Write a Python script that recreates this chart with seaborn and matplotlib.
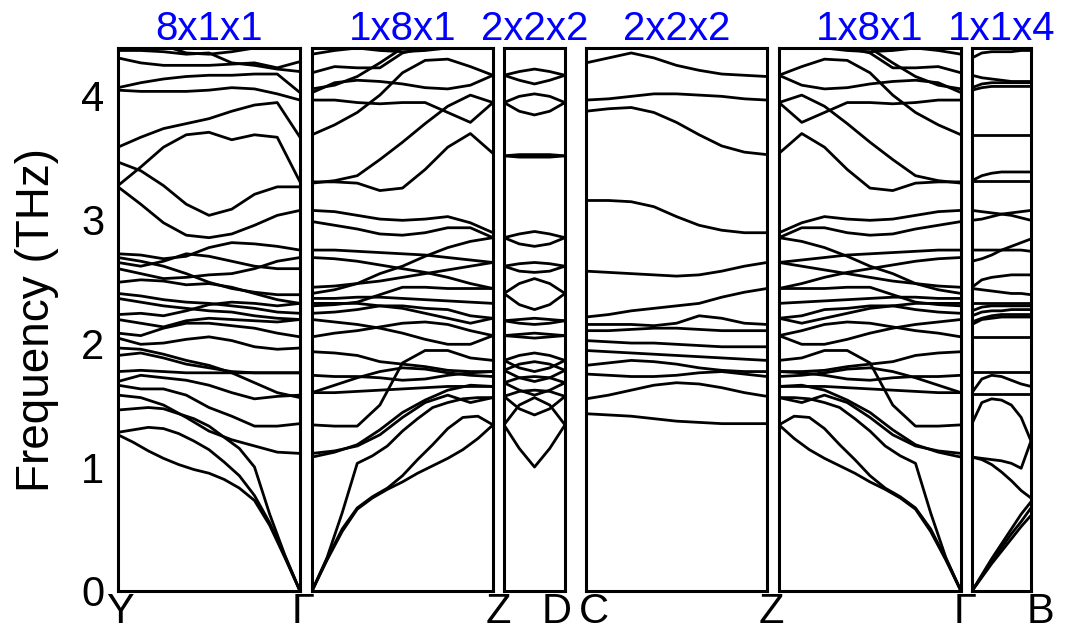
import numpy as np
import pandas as pd
import matplotlib
matplotlib.use("Agg")
import matplotlib.pyplot as plt
import seaborn as sns

sns.set_theme(style="white")
plt.rcParams['font.family'] = ['Liberation Sans', 'DejaVu Sans']
plt.rcParams['text.color'] = 'black'
plt.rcParams['axes.labelcolor'] = 'black'
plt.rcParams['ytick.color'] = 'black'

# phonon frequencies (THz); each branch is sampled evenly along its path segment

# Y -> Gamma  (8x1x1)
yg_bands = [
    [4.45, 4.44, 4.40, 4.34, 4.33, 4.35, 4.38, 4.40, 4.45],
    [4.30, 4.26, 4.24, 4.24, 4.24, 4.25, 4.26, 4.22, 4.27],
    [4.36, 4.36, 4.35, 4.33, 4.34, 4.26, 4.24, 4.21, 4.19],
    [4.06, 4.10, 4.13, 4.15, 4.16, 4.16, 4.17, 4.17, 4.02],
    [4.04, 4.03, 4.03, 4.03, 4.04, 4.06, 4.05, 4.01, 3.96],
    [3.58, 3.66, 3.73, 3.77, 3.81, 3.87, 3.92, 3.94, 3.66],
    [3.27, 3.42, 3.58, 3.68, 3.70, 3.64, 3.68, 3.66, 3.30],
    [3.46, 3.39, 3.27, 3.12, 3.03, 3.08, 3.20, 3.26, 3.26],
    [3.26, 3.12, 2.97, 2.87, 2.85, 2.88, 2.95, 3.03, 3.07],
    [2.72, 2.71, 2.68, 2.70, 2.77, 2.81, 2.80, 2.78, 2.75],
    [2.69, 2.66, 2.62, 2.56, 2.49, 2.44, 2.41, 2.39, 2.39],
    [2.65, 2.62, 2.66, 2.72, 2.70, 2.66, 2.62, 2.60, 2.60],
    [2.60, 2.56, 2.52, 2.53, 2.55, 2.56, 2.60, 2.66, 2.69],
    [2.49, 2.51, 2.50, 2.47, 2.48, 2.45, 2.40, 2.35, 2.32],
    [2.40, 2.38, 2.35, 2.33, 2.32, 2.30, 2.28, 2.25, 2.24],
    [2.36, 2.33, 2.30, 2.28, 2.26, 2.25, 2.22, 2.20, 2.19],
    [2.23, 2.24, 2.22, 2.26, 2.31, 2.33, 2.32, 2.30, 2.32],
    [2.19, 2.16, 2.13, 2.18, 2.20, 2.19, 2.18, 2.17, 2.19],
    [2.08, 2.06, 2.12, 2.16, 2.16, 2.14, 2.12, 2.08, 2.05],
    [2.04, 1.99, 2.00, 2.03, 2.05, 2.02, 1.97, 1.95, 1.96],
    [1.96, 1.95, 1.91, 1.86, 1.82, 1.76, 1.68, 1.60, 1.56],
    [1.90, 1.92, 1.88, 1.83, 1.80, 1.77, 1.76, 1.76, 1.76],
    [1.77, 1.78, 1.77, 1.76, 1.76, 1.76, 1.76, 1.76, 1.76],
    [1.69, 1.74, 1.72, 1.70, 1.66, 1.60, 1.55, 1.57, 1.58],
    [1.66, 1.63, 1.63, 1.58, 1.48, 1.41, 1.33, 1.33, 1.35],
    [1.58, 1.56, 1.50, 1.40, 1.29, 1.22, 1.17, 1.12, 1.11],
    # acoustic branches, sampled finer
    [1.46, 1.47, 1.48, 1.47, 1.43, 1.39, 1.33, 1.24, 1.15, 1.00, 0.62, 0.29, 0.00],
    [1.28, 1.30, 1.32, 1.31, 1.27, 1.21, 1.14, 1.04, 0.93, 0.77, 0.55, 0.28, 0.00],
    [1.26, 1.20, 1.13, 1.07, 1.02, 0.98, 0.95, 0.90, 0.83, 0.73, 0.53, 0.27, 0.00],
]

# Gamma -> Z  (1x8x1)
gz_bands = [
    [4.33, 4.36, 4.38, 4.36, 4.35, 4.36, 4.38, 4.40, 4.42],
    [4.18, 4.23, 4.22, 4.22, 4.34, 4.38, 4.40, 4.42, 4.45],
    [4.02, 4.10, 4.12, 4.11, 4.09, 4.06, 4.05, 4.08, 4.16],
    [4.05, 4.08, 4.15, 4.26, 4.38, 4.45, 4.45, 4.45, 4.45],
    [3.96, 3.96, 3.94, 3.93, 3.94, 3.94, 3.86, 3.78, 3.94],
    [3.68, 3.76, 3.86, 4.00, 4.18, 4.28, 4.29, 4.23, 4.16],
    [3.29, 3.31, 3.35, 3.48, 3.62, 3.77, 3.91, 4.00, 3.94],
    [3.30, 3.30, 3.29, 3.23, 3.25, 3.40, 3.58, 3.69, 3.53],
    [3.07, 3.06, 3.03, 3.00, 2.99, 3.00, 3.02, 2.97, 2.89],
    [2.98, 2.95, 2.92, 2.88, 2.87, 2.89, 2.93, 2.93, 2.85],
    [2.75, 2.75, 2.74, 2.73, 2.72, 2.71, 2.69, 2.67, 2.65],
    [2.69, 2.68, 2.66, 2.63, 2.60, 2.57, 2.53, 2.48, 2.44],
    [2.40, 2.43, 2.48, 2.56, 2.62, 2.70, 2.77, 2.82, 2.85],
    [2.45, 2.46, 2.48, 2.50, 2.53, 2.56, 2.59, 2.62, 2.65],
    [2.36, 2.36, 2.37, 2.37, 2.36, 2.35, 2.34, 2.33, 2.32],
    [2.30, 2.31, 2.33, 2.39, 2.45, 2.45, 2.44, 2.44, 2.44],
    [2.32, 2.32, 2.32, 2.30, 2.30, 2.28, 2.27, 2.22, 2.20],
    [2.24, 2.25, 2.27, 2.30, 2.28, 2.24, 2.20, 2.16, 2.20],
    [2.19, 2.17, 2.15, 2.12, 2.08, 2.03, 1.99, 1.99, 2.06],
    [2.05, 2.08, 2.10, 2.13, 2.16, 2.17, 2.15, 2.10, 2.06],
    [1.93, 1.92, 1.90, 1.85, 1.83, 1.81, 1.78, 1.77, 1.77],
    [1.74, 1.73, 1.73, 1.72, 1.70, 1.71, 1.74, 1.76, 1.77],
    [1.60, 1.66, 1.72, 1.77, 1.80, 1.79, 1.76, 1.74, 1.73],
    [1.60, 1.60, 1.61, 1.62, 1.63, 1.64, 1.65, 1.65, 1.65],
    [1.34, 1.33, 1.33, 1.50, 1.84, 1.94, 1.94, 1.88, 1.86],
    [1.11, 1.13, 1.17, 1.26, 1.40, 1.52, 1.58, 1.52, 1.56],
    [1.08, 1.12, 1.18, 1.30, 1.44, 1.54, 1.62, 1.66, 1.65],
    # acoustic branches, sampled finer
    [0.00, 0.27, 0.63, 1.03, 1.09, 1.17, 1.29, 1.39, 1.48, 1.52, 1.55, 1.56, 1.56],
    [0.00, 0.26, 0.50, 0.67, 0.76, 0.83, 0.93, 1.06, 1.18, 1.31, 1.40, 1.41, 1.34],
    [0.00, 0.25, 0.48, 0.66, 0.75, 0.82, 0.88, 0.95, 1.01, 1.07, 1.14, 1.23, 1.34],
]

# Z -> D  (2x2x2)
zd_bands = [
    [4.16, 4.19, 4.21, 4.19, 4.16],
    [4.16, 4.12, 4.09, 4.12, 4.16],
    [3.94, 3.99, 4.01, 3.99, 3.94],
    [3.94, 3.87, 3.84, 3.87, 3.94],
    [3.51, 3.52, 3.52, 3.52, 3.51],
    [3.51, 3.50, 3.50, 3.50, 3.51],
    [2.85, 2.88, 2.90, 2.88, 2.85],
    [2.85, 2.80, 2.78, 2.80, 2.85],
    [2.62, 2.64, 2.65, 2.64, 2.62],
    [2.62, 2.58, 2.57, 2.58, 2.62],
    [2.40, 2.48, 2.52, 2.48, 2.40],
    [2.40, 2.31, 2.27, 2.31, 2.40],
    [2.18, 2.19, 2.20, 2.19, 2.18],
    [2.18, 2.16, 2.15, 2.16, 2.18],
    [2.06, 2.07, 2.08, 2.07, 2.06],
    [2.06, 2.05, 2.04, 2.05, 2.06],
    [1.86, 1.90, 1.92, 1.90, 1.86],
    [1.86, 1.80, 1.77, 1.80, 1.86],
    [1.78, 1.83, 1.85, 1.83, 1.78],
    [1.78, 1.72, 1.69, 1.72, 1.78],
    [1.68, 1.72, 1.73, 1.72, 1.68],
    [1.68, 1.62, 1.58, 1.62, 1.68],
    [1.57, 1.61, 1.62, 1.61, 1.57],
    [1.57, 1.47, 1.42, 1.47, 1.57],
    [1.34, 1.50, 1.56, 1.50, 1.34],
    [1.34, 1.15, 1.00, 1.15, 1.34],
]

# C -> Z  (2x2x2)
cz_bands = [
    [4.26, 4.30, 4.34, 4.30, 4.24, 4.20, 4.17, 4.16, 4.15],
    [3.96, 3.97, 3.99, 4.01, 4.01, 4.00, 3.99, 3.97, 3.96],
    [3.87, 3.89, 3.90, 3.86, 3.78, 3.68, 3.59, 3.54, 3.52],
    [3.15, 3.15, 3.14, 3.10, 3.02, 2.95, 2.91, 2.89, 2.89],
    [2.58, 2.57, 2.56, 2.55, 2.54, 2.55, 2.58, 2.62, 2.65],
    [2.21, 2.23, 2.26, 2.28, 2.30, 2.32, 2.37, 2.41, 2.44],
    [2.15, 2.15, 2.15, 2.14, 2.16, 2.22, 2.20, 2.16, 2.15],
    [2.10, 2.10, 2.11, 2.12, 2.12, 2.11, 2.10, 2.10, 2.10],
    [2.02, 2.01, 2.00, 2.00, 1.99, 1.98, 1.97, 1.97, 1.97],
    [1.94, 1.93, 1.92, 1.91, 1.90, 1.89, 1.88, 1.87, 1.86],
    [1.82, 1.84, 1.86, 1.85, 1.83, 1.80, 1.78, 1.77, 1.77],
    [1.75, 1.74, 1.73, 1.73, 1.74, 1.76, 1.77, 1.75, 1.73],
    [1.55, 1.58, 1.62, 1.66, 1.68, 1.67, 1.64, 1.60, 1.57],
    [1.43, 1.42, 1.41, 1.39, 1.37, 1.36, 1.35, 1.35, 1.35],
]

# Z -> Gamma  (1x8x1): same branch set as Gamma -> Z, walked backwards
zg_bands = [b[::-1] for b in gz_bands]

# Gamma -> B  (1x1x4)
gb_bands = [
    [4.30, 4.34, 4.35, 4.35, 4.35, 4.36, 4.36],
    [4.16, 4.14, 4.13, 4.12, 4.11, 4.11, 4.11],
    [4.06, 4.09, 4.10, 4.10, 4.10, 4.10, 4.10],
    [4.04, 4.06, 4.07, 4.07, 4.07, 4.07, 4.07],
    [3.68, 3.68, 3.68, 3.68, 3.68, 3.68, 3.68],
    [3.31, 3.35, 3.37, 3.38, 3.38, 3.38, 3.38],
    [3.31, 3.31, 3.31, 3.31, 3.31, 3.31, 3.31],
    [3.07, 3.06, 3.05, 3.04, 3.03, 3.01, 2.99],
    [2.99, 3.00, 3.02, 3.04, 3.05, 3.06, 3.07],
    [2.75, 2.75, 2.75, 2.75, 2.75, 2.75, 2.74],
    [2.66, 2.68, 2.71, 2.75, 2.78, 2.81, 2.84],
    [2.45, 2.51, 2.53, 2.54, 2.55, 2.55, 2.55],
    [2.44, 2.43, 2.42, 2.41, 2.40, 2.40, 2.39],
    [2.32, 2.32, 2.32, 2.32, 2.32, 2.32, 2.32],
    [2.26, 2.29, 2.30, 2.30, 2.30, 2.30, 2.30],
    [2.22, 2.25, 2.26, 2.26, 2.27, 2.27, 2.27],
    [2.17, 2.20, 2.22, 2.23, 2.23, 2.23, 2.23],
    [2.15, 2.19, 2.20, 2.21, 2.21, 2.21, 2.21],
    [2.05, 2.05, 2.05, 2.05, 2.05, 2.05, 2.05],
    [1.77, 1.77, 1.77, 1.77, 1.77, 1.77, 1.77],
    [1.60, 1.71, 1.74, 1.73, 1.70, 1.67, 1.65],
    [1.59, 1.59, 1.59, 1.59, 1.59, 1.59, 1.59],
    [1.35, 1.52, 1.55, 1.54, 1.50, 1.40, 1.21],
    [1.08, 1.07, 1.06, 1.05, 1.03, 0.99, 1.21],
    [1.08, 1.06, 1.02, 0.96, 0.89, 0.81, 0.75],
    [0.00, 0.13, 0.26, 0.38, 0.50, 0.62, 0.72],
    [0.00, 0.12, 0.24, 0.35, 0.46, 0.56, 0.67],
    [0.00, 0.11, 0.22, 0.32, 0.42, 0.52, 0.61],
]

titles = ["8x1x1", "1x8x1", "2x2x2", "2x2x2", "1x8x1", "1x1x4"]
all_bands = [yg_bands, gz_bands, zd_bands, cz_bands, zg_bands, gb_bands]
yticks = [0, 1, 2, 3, 4]
fmax = 4.38

# panel placement in pixels (left, right), figure 1065 x 636
W, H = 1065, 636
panel_px = [(118, 300), (312, 493), (504, 565), (586, 767), (779, 961), (972, 1031)]
top_px, bot_px = 48, 591

fig = plt.figure(figsize=(W / 100, H / 100), dpi=100)

for i, (bands, title, (x0, x1)) in enumerate(zip(all_bands, titles, panel_px)):
    ax = fig.add_axes([x0 / W, 1 - bot_px / H, (x1 - x0) / W, (bot_px - top_px) / H])
    rows = []
    for b, band in enumerate(bands):
        k = np.linspace(0, 1, len(band))
        rows += [(b, kk, f) for kk, f in zip(k, band)]
    df = pd.DataFrame(rows, columns=["band", "k", "freq"])
    sns.lineplot(data=df, x="k", y="freq", units="band", estimator=None,
                 sort=False, color="black", lw=2.0, ax=ax)
    ax.set_xlim(0, 1)
    ax.set_ylim(0, fmax)
    ax.set_xticks([])
    ax.set_xlabel("")
    ax.set_ylabel("")
    for s in ax.spines.values():
        s.set_color("black")
        s.set_linewidth(2.2)
    ax.set_title(title, color="blue", fontsize=29, pad=6)
    if i == 0:
        ax.set_yticks(yticks)
        ax.tick_params(axis="y", length=0, pad=10, labelsize=30)
        ax.set_ylabel("Frequency (THz)", fontsize=33, labelpad=16)
    else:
        ax.set_yticks([])

# high-symmetry point labels under the panels
kpt_labels = [("Y", 120), ("Γ", 303), ("Z", 498), ("D", 557), ("C", 594),
              ("Z", 771), ("Γ", 965), ("B", 1040)]
for lab, xp in kpt_labels:
    fig.text(xp / W, 1 - 612 / H, lab, ha="center", va="center", fontsize=30)

fig.savefig("out.png", dpi=100)
